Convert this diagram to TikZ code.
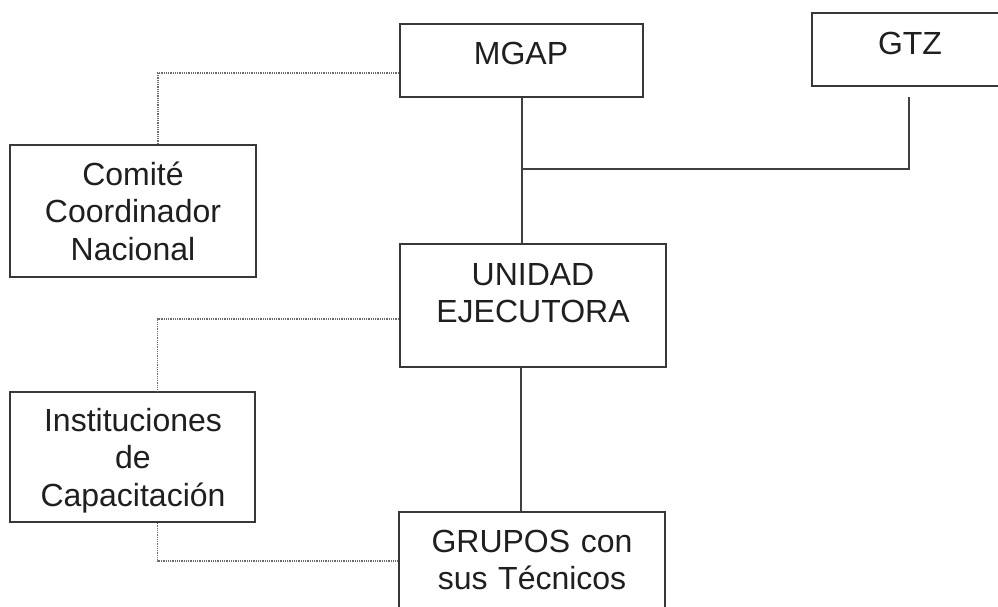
\documentclass[tikz,border=0pt]{standalone}
\usepackage{fontspec}
\setmainfont{Liberation Sans}
\begin{document}
\begin{tikzpicture}[x=1pt,y=-1pt,
  box/.style={draw=black!78, line width=1.6pt, rectangle, inner sep=0pt},
  lbl/.style={text=black!88, font=\fontsize{32}{37.5}\selectfont, align=center, text width=260pt, anchor=base, inner sep=0pt},
  solidline/.style={draw=black!75, line width=1.6pt},
  dotline/.style={draw=black!58, line width=1.8pt, dash pattern=on 1pt off 0.8pt}
]
\useasboundingbox (0,0) rectangle (998,607);
\fill[white] (0,0) rectangle (998,607);
\clip (0,0) rectangle (998,607);

% boxes
\node[box, minimum width=243pt, minimum height=73pt] (mgap) at (521.5,60.5) {};
\node[box, minimum width=193pt, minimum height=73pt] (gtz) at (908.5,49.5) {};
\node[box, minimum width=246pt, minimum height=132pt] (comite) at (133,211) {};
\node[box, minimum width=266pt, minimum height=123pt] (unidad) at (533,305.5) {};
\node[box, minimum width=245pt, minimum height=130pt] (inst) at (132.5,457) {};
\node[box, minimum width=266pt, minimum height=128pt] (grupos) at (532,576) {};

% texts
\node[lbl] (mgapt) at (521,65) {MGAP};
\node[lbl] (gtzt) at (910,55) {GTZ};
\node[lbl] (comitet) at (133,185) {Comité\\Coordinador\\Nacional};
\node[lbl] (unidadt) at (533,285) {UNIDAD\\EJECUTORA};
\node[lbl] (instt) at (133,431) {Instituciones\\de\\Capacitación};
\node[lbl] (gruposlt) at (532,552) {GRUPOS con\\sus Técnicos};

% connectors
\coordinate (gtzstub) at (909,97);
\coordinate (junc) at (522,169);
\draw[solidline] (mgap.south -| junc) -- (unidad.north -| junc);
\draw[solidline] (gtzstub) |- (junc);
\draw[solidline] ([xshift=-12pt]unidad.south) -- ([xshift=-12pt]unidad.south |- grupos.north);

\draw[dotline] ([yshift=-12.5pt]mgap.west) -| ([xshift=25pt]comite.north);
\draw[dotline] ([yshift=-13.5pt]unidad.west) -| ([xshift=25pt]inst.north);
\draw[dotline] ([xshift=25pt]inst.south) |- ([yshift=15pt]grupos.west);
\end{tikzpicture}
\end{document}
